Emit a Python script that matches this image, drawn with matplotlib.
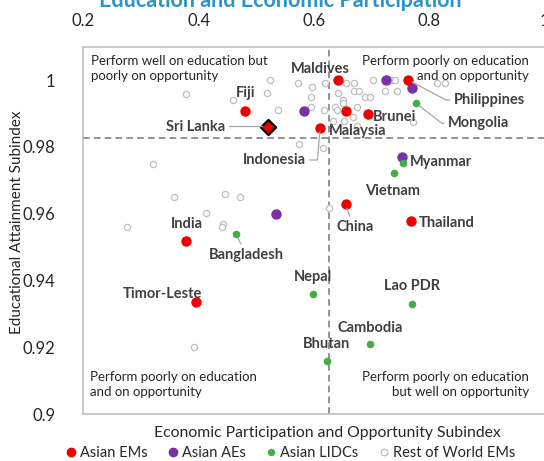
import numpy as np
import matplotlib.pyplot as plt
from matplotlib.lines import Line2D

plt.rcParams['font.family'] = ['Lato', 'DejaVu Sans']

# Asian EMs
em_names = ['Maldives', 'Philippines', 'Fiji', 'Malaysia', 'Brunei', 'Indonesia',
            'China', 'Thailand', 'India', 'Timor-Leste']
em_x = [0.641, 0.764, 0.481, 0.655, 0.693, 0.611, 0.655, 0.768, 0.378, 0.395]
em_y = [1.000, 1.000, 0.9907, 0.9908, 0.9898, 0.9858, 0.9628, 0.9578, 0.9519, 0.9336]

# Asian AEs
ae_x = [0.725, 0.770, 0.582, 0.752, 0.534]
ae_y = [1.000, 0.9977, 0.9907, 0.9770, 0.9598]

# Asian LIDCs
lidc_names = ['Mongolia', 'Myanmar', 'Vietnam', 'Bangladesh', 'Nepal', 'Lao PDR',
              'Cambodia', 'Bhutan']
lidc_x = [0.777, 0.755, 0.739, 0.465, 0.599, 0.770, 0.698, 0.622]
lidc_y = [0.9931, 0.9751, 0.9721, 0.9539, 0.9358, 0.9328, 0.9210, 0.9160]

# Rest of world EMs
row_x = [0.378, 0.460, 0.518, 0.523, 0.537, 0.573, 0.597, 0.595, 0.595, 0.618,
         0.620, 0.575, 0.616, 0.642, 0.655, 0.670, 0.670, 0.679, 0.689, 0.697,
         0.650, 0.651, 0.637, 0.640, 0.675, 0.633, 0.653, 0.668, 0.675, 0.703,
         0.735, 0.741, 0.723, 0.744, 0.772, 0.813, 0.827,
         0.321, 0.357, 0.446, 0.472, 0.413, 0.275, 0.443, 0.441, 0.627, 0.392]
row_y = [0.9959, 0.9939, 0.9960, 1.000, 0.9910, 0.9990, 0.9980, 0.9948, 0.9918, 0.9910,
         0.9990, 0.9808, 0.9798, 0.9960, 0.9990, 0.9990, 0.9968, 0.9968, 0.9948, 0.9948,
         0.9940, 0.9930, 0.9920, 0.9910, 0.9920, 0.9878, 0.9878, 0.9888, 0.9862, 1.000,
         1.000, 1.000, 0.9968, 0.9968, 0.9874, 0.9990, 0.9990,
         0.9749, 0.9650, 0.9659, 0.9650, 0.9601, 0.9559, 0.9569, 0.9559, 0.9618, 0.9200]

# Sri Lanka (highlighted)
lk_x, lk_y = 0.521, 0.9861

# median lines
x_mid, y_mid = 0.627, 0.9828

xticks = [0.2, 0.4, 0.6, 0.8, 1.0]
xtick_labels = ['0.2', '0.4', '0.6', '0.8', '1']
yticks = [0.9, 0.92, 0.94, 0.96, 0.98, 1.0]
ytick_labels = ['0.9', '0.92', '0.94', '0.96', '0.98', '1']

red, purple, green, grey = '#ee0000', '#7b2fa8', '#45ad45', '#bfbfbf'
txt = '#404040'

fig = plt.figure(figsize=(5.44, 4.61), dpi=100)
ax = fig.add_axes([83.3 / 544, 47 / 461, (544.5 - 83.3) / 544, (414 - 46.7) / 461])

ax.scatter(row_x, row_y, s=20, facecolor='white', edgecolor=grey, linewidth=0.9, zorder=2)
ax.scatter(ae_x, ae_y, s=42, color=purple, zorder=3)
ax.scatter(em_x, em_y, s=42, color=red, zorder=3)
ax.scatter(lidc_x, lidc_y, s=20, color=green, zorder=3)
ax.scatter([lk_x], [lk_y], s=60, marker='D', color=red, edgecolor='black', linewidth=1.6, zorder=4)

ax.axvline(x_mid, color='#808080', ls=(0, (4, 2.5)), lw=1.2, zorder=1)
ax.axhline(y_mid, color='#808080', ls=(0, (4, 2.5)), lw=1.2, zorder=1)

# label offsets in points
offsets = {
    'Maldives': (-12.7, 7.7), 'Fiji': (0, 13.2), 'Malaysia': (8.9, -14.4),
    'Brunei': (19.2, -2.4), 'Indonesia': (-33.3, -23.4), 'Philippines': (58.5, -14.4),
    'Mongolia': (45.2, -14.6), 'Myanmar': (27.4, 0.9), 'Vietnam': (-1, -13),
    'China': (6.9, -16.6), 'Thailand': (26.1, -1.2), 'India': (0.4, 12),
    'Bangladesh': (7.6, -15.3), 'Nepal': (0, 12.7), 'Timor-Leste': (-23.9, 5.3),
    'Lao PDR': (0.2, 13.2), 'Cambodia': (0, 11.7), 'Bhutan': (0, 12),
}
leaders = {
    'Indonesia': dict(relpos=(1, 0.5), connectionstyle='angle,angleA=0,angleB=85,rad=0'),
    'Philippines': dict(relpos=(0, 0.5), connectionstyle='angle,angleA=0,angleB=-28,rad=0'),
    'Mongolia': dict(relpos=(0, 0.5), connectionstyle='angle,angleA=0,angleB=-38,rad=0'),
    'China': dict(relpos=(0.4, 1), connectionstyle='arc3'),
    'Bangladesh': dict(relpos=(0.45, 1), connectionstyle='arc3'),
}

lfs = 10.5
names = em_names + lidc_names
xs = em_x + lidc_x
ys = em_y + lidc_y
for n, x, y in zip(names, xs, ys):
    arrow = None
    if n in leaders:
        arrow = dict(arrowstyle='-', color='#a6a6a6', lw=0.9, shrinkA=1, shrinkB=3, **leaders[n])
    ax.annotate(n, (x, y), xytext=offsets[n], textcoords='offset points',
                ha='center', va='center', fontsize=lfs, fontweight='bold', color=txt,
                arrowprops=arrow, zorder=5)

ax.annotate('Sri Lanka', (lk_x, lk_y), xytext=(-52.4, 0), textcoords='offset points',
            ha='center', va='center', fontsize=lfs, fontweight='bold', color=txt,
            arrowprops=dict(arrowstyle='-', color='#a6a6a6', lw=0.9, shrinkA=1, shrinkB=4,
                            relpos=(1, 0.5)), zorder=5)

# quadrant notes
qfs = 9.5
ax.text(0.016, 0.978, 'Perform well on education but\npoorly on opportunity', transform=ax.transAxes,
        ha='left', va='top', fontsize=qfs, color='#262626', linespacing=1.3)
ax.text(0.967, 0.978, 'Perform poorly on education\nand on opportunity', transform=ax.transAxes,
        ha='right', va='top', fontsize=qfs, color='#262626', linespacing=1.3, multialignment='right')
ax.text(0.015, 0.079, 'Perform poorly on education\nand on opportunity', transform=ax.transAxes,
        ha='left', va='center', fontsize=qfs, color='#262626', linespacing=1.3)
ax.text(0.967, 0.079, 'Perform poorly on education\nbut well on opportunity', transform=ax.transAxes,
        ha='right', va='center', fontsize=qfs, color='#262626', linespacing=1.3,
        multialignment='right')

ax.set_xlim(0.2, 1.0)
ax.set_ylim(0.9, 1.01)
ax.xaxis.tick_top()
ax.set_xticks(xticks)
ax.set_xticklabels(xtick_labels)
ax.set_yticks(yticks)
ax.set_yticklabels(ytick_labels)
ax.tick_params(axis='both', length=0, labelsize=12, colors='#262626')
ax.tick_params(axis='x', pad=13)
ax.tick_params(axis='y', pad=20)
for side in ['left', 'bottom', 'top']:
    ax.spines[side].set_color('#bfbfbf')
    ax.spines[side].set_linewidth(1.2)
ax.spines['right'].set_visible(False)

fig.text(327 / 544, 1 - 432.7 / 461, 'Economic Participation and Opportunity Subindex',
         ha='center', va='center', fontsize=11.3, color='#262626')
fig.text(17 / 544, 1 - 222 / 461, 'Educational Attainment Subindex', rotation=90,
         ha='center', va='center', fontsize=11, color='#262626')
fig.text(280 / 544, 1 - 7 / 461, 'Education and Economic Participation', ha='center',
         va='baseline', fontsize=15.5, fontweight='bold', color='#2b93c6')

handles = [
    Line2D([], [], ls='', marker='o', ms=6, color=red),
    Line2D([], [], ls='', marker='o', ms=6, color=purple),
    Line2D([], [], ls='', marker='o', ms=4.3, color=green),
    Line2D([], [], ls='', marker='o', ms=4.8, mfc='white', mec=grey, mew=0.9),
]
fig.legend(handles, ['Asian EMs', 'Asian AEs', 'Asian LIDCs', 'Rest of World EMs'],
           loc='center', bbox_to_anchor=(291 / 544, 1 - 453 / 461), ncol=4, frameon=False,
           fontsize=10.5, handlelength=0.6, handletextpad=0.3, columnspacing=1.45,
           borderpad=0, labelcolor='#262626')

fig.savefig('out.png', dpi=100)
